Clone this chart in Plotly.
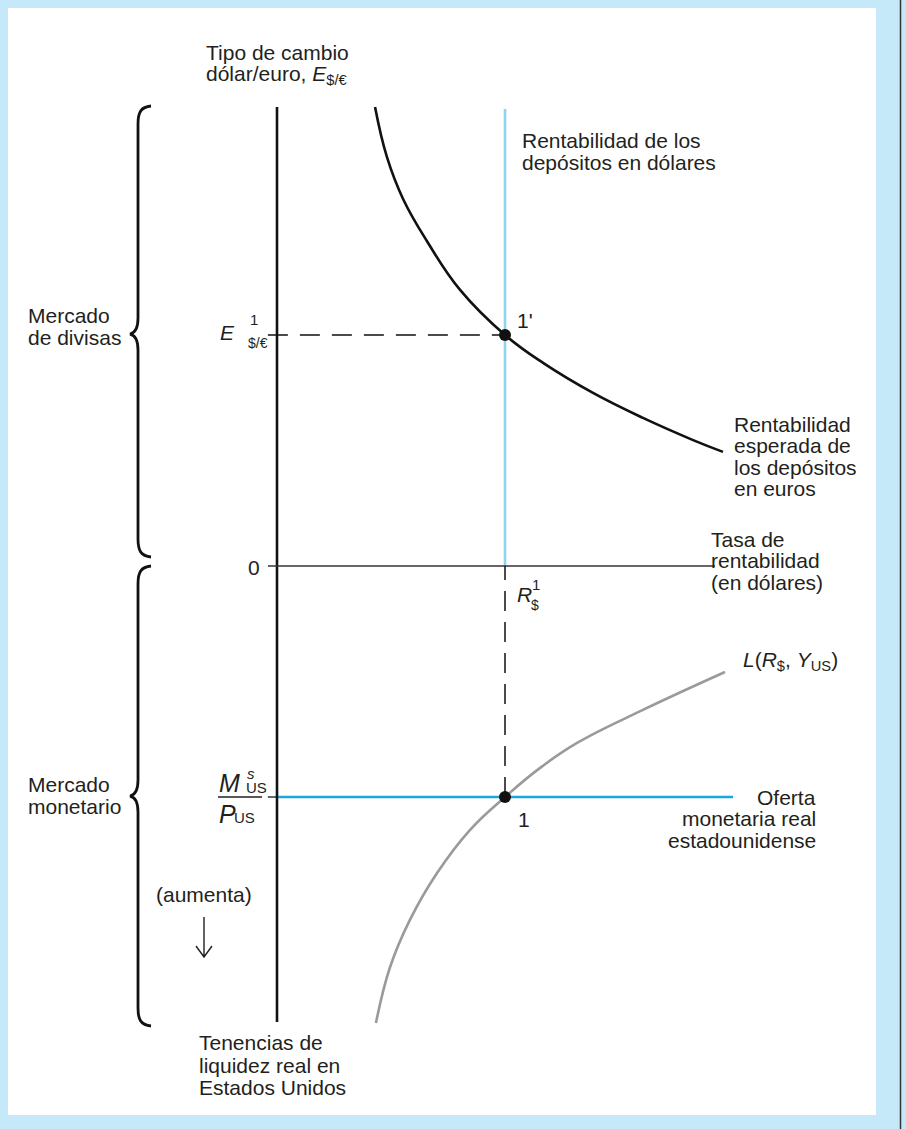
import plotly.graph_objects as go

W, H = 906, 1129
FONT = "Liberation Sans, Arial, sans-serif"
F = 21
TXT = "#231f20"

# ---- axis geometry (pixel position of origin and pixels per unit) ----
X0_PX, X_SCALE = 277, 228
Y0_PX, Y_SCALE = 566, 231

# ---- data (conceptual units) ----
R1 = 1.0          # equilibrium dollar interest rate
E1 = 1.0          # equilibrium dollar/euro exchange rate
MS_P = -1.0       # real money supply (drawn downward)

euro_R = [0.430, 0.482, 0.553, 0.658, 0.803, 1.0, 1.167, 1.386, 1.605, 1.825, 1.956]
euro_E = [1.987, 1.771, 1.589, 1.406, 1.195, 1.0, 0.879, 0.749, 0.641, 0.545, 0.494]

L_R = [0.434, 0.496, 0.583, 0.702, 0.846, 1.0, 1.154, 1.316, 1.605, 1.965]
L_M = [-1.978, -1.736, -1.532, -1.329, -1.143, -1.0, -0.874, -0.766, -0.623, -0.459]

AXIS_TOP = 1.987
AXIS_BOTTOM = -1.974
DOLLAR_TOP = 1.978
R_AXIS_END = 1.921
MS_END = 2.0
TICK = -0.04

fig = go.Figure()

# light-blue dollar return line
fig.add_trace(go.Scatter(x=[R1, R1], y=[0, DOLLAR_TOP], mode="lines",
                         line=dict(color="#8ed3f2", width=2.6), hoverinfo="skip"))
# money supply line
fig.add_trace(go.Scatter(x=[0, MS_END], y=[MS_P, MS_P], mode="lines",
                         line=dict(color="#1aa7df", width=2.6), hoverinfo="skip"))
# tick for money supply
fig.add_trace(go.Scatter(x=[TICK, 0], y=[MS_P, MS_P], mode="lines",
                         line=dict(color="#333333", width=1.5), hoverinfo="skip"))
# vertical axis
fig.add_trace(go.Scatter(x=[0, 0], y=[AXIS_BOTTOM, AXIS_TOP], mode="lines",
                         line=dict(color="#111111", width=2.6), hoverinfo="skip"))
# horizontal axis
fig.add_trace(go.Scatter(x=[TICK, R_AXIS_END], y=[0, 0], mode="lines",
                         line=dict(color="#333333", width=1.5), hoverinfo="skip"))
# dashed guides
fig.add_trace(go.Scatter(x=[TICK, R1], y=[E1, E1], mode="lines",
                         line=dict(color="#111111", width=1.5, dash="20px,12px"), hoverinfo="skip"))
fig.add_trace(go.Scatter(x=[R1, R1], y=[MS_P, 0], mode="lines",
                         line=dict(color="#111111", width=1.5, dash="20px,11px"), hoverinfo="skip"))
# expected euro return curve
fig.add_trace(go.Scatter(x=euro_R, y=euro_E, mode="lines", line_shape="spline",
                         line=dict(color="#111111", width=2.6, smoothing=1.2), hoverinfo="skip"))
# money demand curve
fig.add_trace(go.Scatter(x=L_R, y=L_M, mode="lines", line_shape="spline",
                         line=dict(color="#9a9a9a", width=2.6, smoothing=1.2), hoverinfo="skip"))
# equilibrium points
fig.add_trace(go.Scatter(x=[R1, R1], y=[E1, MS_P], mode="markers",
                         marker=dict(color="#111111", size=12), hoverinfo="skip"))


def dx(px):
    return (px - X0_PX) / X_SCALE


def dy(py):
    return (Y0_PX - py) / Y_SCALE


def brace(y_top, y_tip, y_bot, x_end=151, x_sp=138, x_tip=130):
    pts = [
        ("M", [(x_end, y_top)]),
        ("C", [(x_sp + 3, y_top + 1), (x_sp, y_top + 6), (x_sp, y_top + 18)]),
        ("L", [(x_sp, y_tip - 16)]),
        ("C", [(x_sp, y_tip - 6), (x_sp - 3, y_tip - 1), (x_tip, y_tip)]),
        ("C", [(x_sp - 3, y_tip + 1), (x_sp, y_tip + 6), (x_sp, y_tip + 16)]),
        ("L", [(x_sp, y_bot - 18)]),
        ("C", [(x_sp, y_bot - 6), (x_sp + 3, y_bot - 1), (x_end, y_bot)]),
    ]
    s = ""
    for cmd, ps in pts:
        s += cmd + " " + " ".join(f"{dx(a):.4f},{dy(b):.4f}" for a, b in ps) + " "
    return s


shapes = [
    dict(type="rect", xref="paper", yref="paper", x0=8 / W, x1=876 / W,
         y0=1 - 1115 / H, y1=1 - 8 / H, fillcolor="white", line_width=0, layer="below"),
    dict(type="line", xref="paper", yref="paper", x0=900.5 / W, x1=900.5 / W,
         y0=0, y1=1, line=dict(color="#333333", width=1.5)),
    dict(type="path", xref="x", yref="y", path=brace(106, 334, 557),
         line=dict(color="#111111", width=2.8)),
    dict(type="path", xref="x", yref="y", path=brace(566, 796, 1026),
         line=dict(color="#111111", width=2.8)),
    # fraction bar
    dict(type="line", xref="paper", yref="paper", x0=218 / W, x1=262 / W,
         y0=1 - 797 / H, y1=1 - 797 / H, line=dict(color=TXT, width=1.3)),
    # arrow (aumenta)
    dict(type="path", xref="paper", yref="paper",
         path=f"M {204/W},{1-917/H} L {204/W},{1-957/H} M {196/W},{1-946/H} L {204/W},{1-957/H} L {212/W},{1-946/H}",
         line=dict(color=TXT, width=1.4)),
]

anns = []


def txt(s, x, base, size=F, anchor="left"):
    anns.append(dict(text=s, x=x / W, y=1 - (base - 0.3465 * size) / H, xref="paper", yref="paper",
                     xanchor=anchor, yanchor="middle", showarrow=False, borderpad=0,
                     font=dict(size=size, color=TXT, family=FONT)))


txt("Tipo de cambio", 205, 60)
txt("dólar/euro, <i>E</i><sub>$/€</sub>", 205, 82)
txt("Rentabilidad de los", 521, 148)
txt("depósitos en dólares", 521, 170)
txt("1'", 516, 328)
txt("<i>E</i>", 219, 340)
txt("1", 249, 325, 15)
txt("$/€", 247, 348, 14)
txt("Mercado", 27, 323)
txt("de divisas", 27, 345)
txt("Rentabilidad", 733, 432)
txt("esperada de", 733, 453)
txt("los depósitos", 733, 475)
txt("en euros", 733, 496)
txt("0", 247, 575)
txt("Tasa de", 710, 547)
txt("rentabilidad", 710, 568)
txt("(en dólares)", 710, 590)
txt("<i>R</i>", 516, 602)
txt("1", 531, 590, 15)
txt("$", 530, 610, 14)
txt("<i>L</i>(<i>R</i><sub>$</sub>, <i>Y</i><sub>US</sub>)", 742, 668)
txt("<i>M</i>", 218, 792, 25)
txt("<i>s</i>", 246, 779, 15)
txt("US", 245, 793, 15)
txt("<i>P</i>", 218, 823, 25)
txt("US", 233, 823, 15)
txt("Mercado", 27, 792)
txt("monetario", 27, 814)
txt("1", 517, 827)
txt("Oferta", 817, 805, anchor="right")
txt("monetaria real", 817, 826, anchor="right")
txt("estadounidense", 817, 848, anchor="right")
txt("(aumenta)", 155, 902)
txt("Tenencias de", 198, 1050)
txt("liquidez real en", 198, 1073)
txt("Estados Unidos", 198, 1095)

fig.update_layout(
    width=W, height=H, margin=dict(l=0, r=0, t=0, b=0),
    paper_bgcolor="#c6e9f9", plot_bgcolor="rgba(0,0,0,0)",
    showlegend=False, shapes=shapes, annotations=anns,
    xaxis=dict(range=[-X0_PX / X_SCALE, (W - X0_PX) / X_SCALE], visible=False, fixedrange=True),
    yaxis=dict(range=[(Y0_PX - H) / Y_SCALE, Y0_PX / Y_SCALE], visible=False, fixedrange=True),
)

fig.write_html(
    "out.html",
    config={"displayModeBar": False, "staticPlot": True},
    post_script="document.body.style.margin='0';document.body.style.overflow='hidden';"
                "document.body.style.background='#c6e9f9';",
)
